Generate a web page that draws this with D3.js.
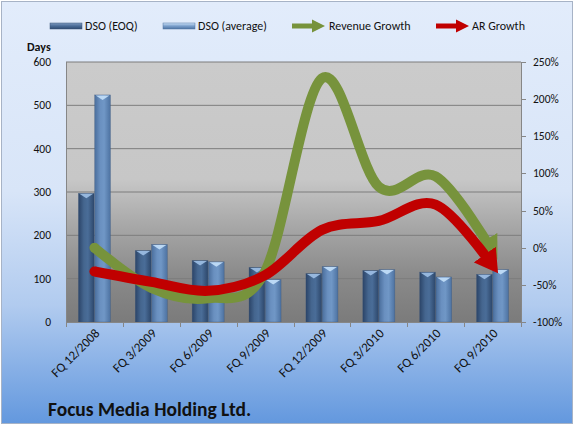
<!DOCTYPE html>
<html>
<head>
<meta charset="utf-8">
<script src="https://cdn.jsdelivr.net/npm/d3@7"></script>
<style>
  body { margin: 0; background: #fff; }
  svg text { font-family: Carlito, Calibri, Lato, sans-serif; fill: #111; }
</style>
</head>
<body>
<svg width="575" height="427"></svg>
<script>
// values
const quarters = ["FQ 12/2008", "FQ 3/2009", "FQ 6/2009", "FQ 9/2009",
                  "FQ 12/2009", "FQ 3/2010", "FQ 6/2010", "FQ 9/2010"];
const dsoEoq = [297, 165, 142, 126, 112, 119, 115, 110];
const dsoAvg = [524, 179, 139, 98, 128, 121, 104, 121];
const revenueGrowth = [0, -54, -68, -32, 228, 82, 96, -5];   // percent
const arGrowth = [-32, -46, -58, -37, 24, 36, 58, -24];       // percent
const dayTicks = [0, 100, 200, 300, 400, 500, 600];
const pctTicks = [-100, -50, 0, 50, 100, 150, 200, 250];

const svg = d3.select("svg");
const defs = svg.append("defs");

const plot = {left: 66, right: 521, top: 62, bottom: 322};

/************************************************/
/* Gradients and markers                        */
/************************************************/

function vGrad(id, stops, horizontal) {
    const g = defs.append("linearGradient").attr("id", id)
        .attr("x1", 0).attr("y1", 0)
        .attr("x2", horizontal ? 1 : 0).attr("y2", horizontal ? 0 : 1);
    stops.forEach(s => g.append("stop").attr("offset", s[0]).attr("stop-color", s[1]));
}

vGrad("chartBg", [[0, "#e2ecfb"], [0.45, "#d8e5f8"], [0.72, "#b1cbef"], [1, "#6398de"]]);
vGrad("plotBg", [[0, "#cbcbcb"], [0.45, "#c7c7c7"], [0.62, "#a9a9a9"], [0.82, "#8a8a8a"], [1, "#7b7b7b"]]);
vGrad("eoqFill", [[0, "#2b4468"], [0.35, "#45668f"], [0.6, "#4a6d98"], [1, "#2d476b"]], true);
vGrad("avgFill", [[0, "#4a6e9c"], [0.35, "#6a90c0"], [0.6, "#7097c6"], [1, "#4d72a1"]], true);
vGrad("legEoq", [[0, "#7f9bc0"], [0.5, "#4a6c97"], [1, "#2f4b70"]]);
vGrad("legAvg", [[0, "#cfe4fa"], [0.5, "#7a9fcb"], [1, "#4f74a3"]]);

function arrowMarker(id, color) {
    defs.append("marker").attr("id", id)
        .attr("markerUnits", "strokeWidth")
        .attr("viewBox", "0 -1.35 2.3 2.7")
        .attr("markerWidth", 2.3).attr("markerHeight", 2.7)
        .attr("refX", 1.35).attr("refY", 0)
        .attr("orient", "auto")
        .append("path").attr("d", "M0,-1.35L2.3,0L0,1.35Z").attr("fill", color);
    defs.append("marker").attr("id", id + "Start")
        .attr("markerUnits", "strokeWidth")
        .attr("viewBox", "-0.5 -0.5 1 1")
        .attr("markerWidth", 1).attr("markerHeight", 1)
        .append("circle").attr("r", 0.5).attr("fill", color);
}
arrowMarker("arrGreen", "#77933c");
arrowMarker("arrRed", "#c00000");

/************************************************/
/* Background                                   */
/************************************************/

svg.append("rect").attr("x", 1.5).attr("y", 1.5).attr("width", 571).attr("height", 422)
    .attr("fill", "url(#chartBg)").attr("stroke", "#a7b3c6");

svg.append("rect").attr("x", plot.left).attr("y", plot.top)
    .attr("width", plot.right - plot.left).attr("height", plot.bottom - plot.top)
    .attr("fill", "url(#plotBg)");

/************************************************/
/* Scales                                       */
/************************************************/

const x = d3.scaleBand().domain(quarters).range([plot.left, plot.right]).padding(0);
const xInner = d3.scaleBand().domain(["eoq", "avg"])
    .range([x.bandwidth() * 0.21, x.bandwidth() * 0.79]).padding(0.03);
const yDays = d3.scaleLinear().domain([0, 600]).range([plot.bottom, plot.top]);
const yPct = d3.scaleLinear().domain([-100, 250]).range([plot.bottom, plot.top]);

// grid lines
svg.append("g").selectAll("line").data(dayTicks.slice(1)).join("line")
    .attr("x1", plot.left).attr("x2", plot.right)
    .attr("y1", d => yDays(d)).attr("y2", d => yDays(d))
    .attr("stroke", "#7d7d7d").attr("stroke-width", 1);

/************************************************/
/* Bars                                         */
/************************************************/

const series = [
    {key: "eoq", values: dsoEoq, fill: "url(#eoqFill)", cap: "#9fc0e6"},
    {key: "avg", values: dsoAvg, fill: "url(#avgFill)", cap: "#c4e0fa"}
];

series.forEach(s => {
    const g = svg.append("g");
    const w = xInner.bandwidth();
    const bx = (d, i) => x(quarters[i]) + xInner(s.key);
    g.selectAll("rect").data(s.values).join("rect")
        .attr("x", bx)
        .attr("y", d => yDays(d))
        .attr("width", w)
        .attr("height", d => yDays(0) - yDays(d))
        .attr("fill", s.fill)
        .attr("stroke", "#3a5378").attr("stroke-opacity", 0.5).attr("stroke-width", 0.6);
    g.selectAll("path").data(s.values).join("path")
        .attr("d", (d, i) => {
            const x0 = bx(d, i), y0 = yDays(d);
            return `M${x0 + 1},${y0 + 0.5}L${x0 + w - 1},${y0 + 0.5}L${x0 + w / 2},${y0 + 5}Z`;
        })
        .attr("fill", s.cap).attr("opacity", 0.9);
});

/************************************************/
/* Growth lines                                 */
/************************************************/

const line = d3.line()
    .x((d, i) => x(quarters[i]) + x.bandwidth() / 2)
    .y(d => yPct(d))
    .curve(d3.curveCardinal.tension(0));

svg.append("path").datum(revenueGrowth)
    .attr("d", line).attr("fill", "none")
    .attr("stroke", "#77933c").attr("stroke-width", 10)
    .attr("marker-start", "url(#arrGreenStart)")
    .attr("marker-end", "url(#arrGreen)");

svg.append("path").datum(arGrowth)
    .attr("d", line).attr("fill", "none")
    .attr("stroke", "#c00000").attr("stroke-width", 10)
    .attr("marker-start", "url(#arrRedStart)")
    .attr("marker-end", "url(#arrRed)");

/************************************************/
/* Axes                                         */
/************************************************/

const axisColor = "#868686";

// left
svg.append("line").attr("x1", plot.left + 0.5).attr("x2", plot.left + 0.5)
    .attr("y1", plot.top).attr("y2", plot.bottom).attr("stroke", axisColor);
svg.append("g").selectAll("text").data(dayTicks).join("text")
    .attr("x", 51).attr("y", d => yDays(d)).attr("dy", "0.35em")
    .attr("text-anchor", "end").style("font-size", "11.5px")
    .text(d => d);
svg.append("text").attr("x", 27).attr("y", 51)
    .style("font-size", "12px").style("font-weight", "bold").text("Days");

// right
svg.append("line").attr("x1", plot.right + 0.5).attr("x2", plot.right + 0.5)
    .attr("y1", plot.top).attr("y2", plot.bottom).attr("stroke", axisColor);
svg.append("g").selectAll("line").data(pctTicks).join("line")
    .attr("x1", plot.right).attr("x2", plot.right + 5)
    .attr("y1", d => Math.round(yPct(d)) + 0.5).attr("y2", d => Math.round(yPct(d)) + 0.5)
    .attr("stroke", axisColor);
svg.append("g").selectAll("text").data(pctTicks).join("text")
    .attr("x", 533).attr("y", d => yPct(d)).attr("dy", "0.35em")
    .style("font-size", "11.5px")
    .text(d => d + "%");

// bottom
svg.append("line").attr("x1", plot.left).attr("x2", plot.right)
    .attr("y1", plot.bottom + 0.5).attr("y2", plot.bottom + 0.5).attr("stroke", axisColor);
svg.append("g").selectAll("line").data(quarters.concat([null])).join("line")
    .attr("x1", (d, i) => Math.round(plot.left + i * x.bandwidth()) + 0.5)
    .attr("x2", (d, i) => Math.round(plot.left + i * x.bandwidth()) + 0.5)
    .attr("y1", plot.bottom).attr("y2", plot.bottom + 5)
    .attr("stroke", axisColor);
svg.append("g").selectAll("text").data(quarters).join("text")
    .attr("transform", d => `translate(${x(d) + x.bandwidth() / 2 + 6},${plot.bottom + 12}) rotate(-45)`)
    .attr("text-anchor", "end").style("font-size", "13px")
    .text(d => d);

/************************************************/
/* Legend and title                             */
/************************************************/

const legend = svg.append("g").attr("transform", "translate(0,26)");
legend.append("rect").attr("x", 50).attr("y", -3).attr("width", 32).attr("height", 6)
    .attr("fill", "url(#legEoq)").attr("stroke", "#3a5378").attr("stroke-width", 0.5);
legend.append("text").attr("x", 85).attr("dy", "0.35em").style("font-size", "12px").text("DSO (EOQ)");
legend.append("rect").attr("x", 163).attr("y", -3).attr("width", 32).attr("height", 6)
    .attr("fill", "url(#legAvg)").attr("stroke", "#4f74a3").attr("stroke-width", 0.5);
legend.append("text").attr("x", 198).attr("dy", "0.35em").style("font-size", "12px").text("DSO (average)");

function legendArrow(x0, color) {
    legend.append("path")
        .attr("d", `M${x0},0L${x0 + 22},0`)
        .attr("stroke", color).attr("stroke-width", 5);
    legend.append("path")
        .attr("d", `M${x0 + 20},-6.5L${x0 + 33},0L${x0 + 20},6.5Z`)
        .attr("fill", color);
}
legendArrow(292, "#77933c");
legend.append("text").attr("x", 329).attr("dy", "0.35em").style("font-size", "12px").text("Revenue Growth");
legendArrow(436, "#c00000");
legend.append("text").attr("x", 472).attr("dy", "0.35em").style("font-size", "12px").text("AR Growth");

svg.append("text").attr("x", 48).attr("y", 416)
    .style("font-size", "19.5px").style("font-weight", "bold")
    .text("Focus Media Holding Ltd.");
</script>
</body>
</html>
